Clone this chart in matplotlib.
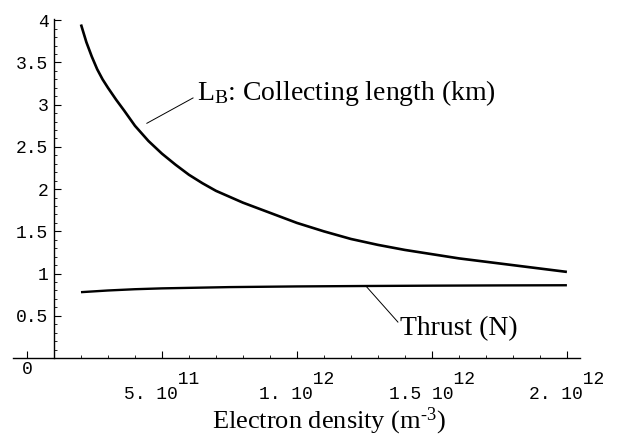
import numpy as np
import matplotlib
matplotlib.use("Agg")
import matplotlib.pyplot as plt
from matplotlib.ticker import FixedLocator

plt.rcParams['mathtext.fontset'] = 'custom'
plt.rcParams['mathtext.rm'] = 'Liberation Serif'
plt.rcParams['mathtext.it'] = 'Liberation Serif:italic'

# electron density in units of 1e12 m^-3
density = [0.20, 0.22, 0.24, 0.26, 0.28, 0.30, 0.33, 0.36, 0.40, 0.45,
           0.50, 0.55, 0.60, 0.65, 0.70, 0.80, 0.90, 1.00, 1.10, 1.20,
           1.30, 1.40, 1.50, 1.60, 1.70, 1.80, 1.90, 2.00]
length_km = [3.95, 3.74, 3.57, 3.42, 3.30, 3.20, 3.06, 2.93, 2.75, 2.57,
             2.42, 2.29, 2.17, 2.07, 1.98, 1.84, 1.72, 1.60, 1.50, 1.41,
             1.34, 1.28, 1.23, 1.18, 1.14, 1.10, 1.06, 1.02]

thrust_x = [0.20, 0.30, 0.40, 0.50, 0.75, 1.00, 1.25, 1.50, 1.75, 2.00]
thrust_n = [0.78, 0.80, 0.815, 0.825, 0.84, 0.848, 0.853, 0.857, 0.86, 0.862]

xticks = [0, 0.5, 1.0, 1.5, 2.0]
xtick_labels = ["0", "5. 10", "1. 10", "1.5 10", "2. 10"]
xtick_exps = ["", "11", "12", "12", "12"]
yticks = [0.5, 1, 1.5, 2, 2.5, 3, 3.5, 4]
ytick_labels = ["0.5", "1", "1.5", "2", "2.5", "3", "3.5", "4"]

fig = plt.figure(figsize=(6.29, 4.38), dpi=100)
ax = fig.add_axes([0, 0, 1, 1])
ax.set_xlim(-0.1, 2.23)
ax.set_ylim(-0.947, 4.24)

ax.plot(density, length_km, color='black', lw=1.9, solid_capstyle='butt')
ax.plot(thrust_x, thrust_n, color='black', lw=1.7, solid_capstyle='butt')

# axes cross at (0.1, 0), Mathematica style
for s in ['top', 'right']:
    ax.spines[s].set_visible(False)
ax.spines['left'].set_position(('data', 0.1))
ax.spines['bottom'].set_position(('data', 0))
ax.spines['left'].set_bounds(0, 4.02)
ax.spines['bottom'].set_bounds(-0.052, 2.05)
ax.spines['left'].set_linewidth(1.0)
ax.spines['bottom'].set_linewidth(1.0)

mono = 'Liberation Mono'
serif = 'Liberation Serif'

ymin = [v for v in np.round(np.arange(0.1, 4.0, 0.1), 2) if v not in yticks]
ax.yaxis.set_major_locator(FixedLocator(yticks))
ax.yaxis.set_minor_locator(FixedLocator(ymin))
ax.set_yticklabels(ytick_labels, family=mono, fontsize=13)
ax.tick_params(axis='y', which='major', direction='in', length=5, width=0.8, pad=4)
ax.tick_params(axis='y', which='minor', direction='in', length=2.5, width=0.6)

xmin = [v for v in np.round(np.arange(0.1, 2.0, 0.1), 2) if v not in xticks]
ax.xaxis.set_major_locator(FixedLocator(xticks))
ax.xaxis.set_minor_locator(FixedLocator(xmin))
labels = []
for base, e in zip(xtick_labels, xtick_exps):
    if e:
        labels.append(" " * len(base) + e + "\n" + base)
    else:
        labels.append("")
ax.set_xticklabels(labels, family=mono, fontsize=13, linespacing=0.85,
                   multialignment='left')
ax.tick_params(axis='x', which='major', direction='in', length=5, width=0.8, pad=9)
ax.tick_params(axis='x', which='minor', direction='in', length=2.5, width=0.6)
ax.text(xticks[0], -0.04, xtick_labels[0], family=mono, fontsize=13,
        ha='center', va='top')

ax.text(1.12, -0.84, "Electron density (m$^{\\text{-3}}$)", family=serif,
        fontsize=19, ha='center', va='baseline')

ax.text(0.63, 3.05, r"L$_{\mathrm{B}}$: Collecting length (km)", family=serif,
        fontsize=20, ha='left', va='baseline')
ax.plot([0.444, 0.615], [2.78, 3.08], color='black', lw=0.7)

ax.text(1.381, 0.272, "Thrust (N)", family=serif, fontsize=20,
        ha='left', va='baseline')
ax.plot([1.259, 1.374], [0.84, 0.426], color='black', lw=0.7)

fig.savefig("out.png", dpi=100)
